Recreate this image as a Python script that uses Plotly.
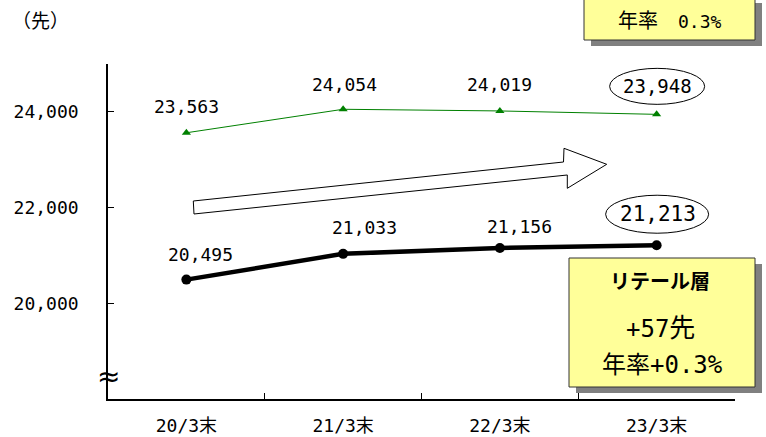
import plotly.graph_objects as go

# ---- data ----
categories = ["20/3末", "21/3末", "22/3末", "23/3末"]
total_values = [23563, 24054, 24019, 23948]      # green series
retail_values = [20495, 21033, 21156, 21213]     # black series (リテール層)
y_tick_vals = [20000, 22000, 24000]
y_tick_text = ["20,000", "22,000", "24,000"]

# label offsets in pixels (xshift, yshift)
total_label_off = [(0, 26), (1, 25), (0, 26), (1, 28)]
retail_label_off = [(14, 25), (21, 26), (20, 21), (1, 31)]

MONO = "DejaVu Sans Mono"
CJK_FONT = "Noto Sans CJK JP"
NUM_FONT = MONO + ", " + CJK_FONT

W, H = 766, 437
L, R, T, B = 108, 735, 64, 399


def px(x):
    return (x - L) / (R - L)


def py(y):
    return (B - y) / (B - T)


def mono(t, size):
    return f"<span style='font-family:{MONO};font-size:{size}px'>{t}</span>"


def cjk(t, size):
    return f"<span style='font-family:{CJK_FONT};font-size:{size}px'>{t}</span>"


fig = go.Figure()

fig.add_trace(go.Scatter(
    x=categories, y=total_values, mode="lines+markers",
    line=dict(color="#008000", width=1),
    marker=dict(symbol="triangle-up", size=8, color="#008000"),
    hoverinfo="skip", showlegend=False))

fig.add_trace(go.Scatter(
    x=categories, y=retail_values, mode="lines+markers",
    line=dict(color="#000000", width=4.5),
    marker=dict(symbol="circle", size=10, color="#000000"),
    hoverinfo="skip", showlegend=False))

annotations = []
shapes = []

for i, (c, v) in enumerate(zip(categories, total_values)):
    xs, ys = total_label_off[i]
    annotations.append(dict(
        x=c, y=v, xref="x", yref="y", text=f"{v:,}", showarrow=False,
        xshift=xs, yshift=ys, font=dict(family=NUM_FONT, size=19 if i == 3 else 18, color="#000"),
        xanchor="center", yanchor="middle"))

for i, (c, v) in enumerate(zip(categories, retail_values)):
    xs, ys = retail_label_off[i]
    annotations.append(dict(
        x=c, y=v, xref="x", yref="y", text=f"{v:,}", showarrow=False,
        xshift=xs, yshift=ys, font=dict(family=NUM_FONT, size=21 if i == 3 else 18, color="#000"),
        xanchor="center", yanchor="middle"))

# ellipses around latest values
shapes.append(dict(type="circle", xref="x", yref="y", xsizemode="pixel", ysizemode="pixel",
                   xanchor=3, yanchor=total_values[3], x0=-47, x1=48, y0=10, y1=46,
                   line=dict(color="#000", width=1), fillcolor="rgba(0,0,0,0)", layer="above"))
shapes.append(dict(type="circle", xref="x", yref="y", xsizemode="pixel", ysizemode="pixel",
                   xanchor=3, yanchor=retail_values[3], x0=-51, x1=52, y0=12, y1=50,
                   line=dict(color="#000", width=1), fillcolor="rgba(0,0,0,0)", layer="above"))

# hollow block arrow
arrow_pts = [(194, 214), (193.3, 201), (563.5, 162), (564, 148.3), (606.7, 164.3),
             (567.3, 188.3), (567.3, 175)]
path = "M " + " L ".join(f"{px(x):.5f},{py(y):.5f}" for x, y in arrow_pts) + " Z"
shapes.append(dict(type="path", xref="paper", yref="paper", path=path,
                   line=dict(color="#000", width=1), fillcolor="white", layer="above"))

# yellow boxes with shadow
def box(x0, y0, x1, y1):
    shapes.append(dict(type="rect", xref="paper", yref="paper",
                       x0=px(x0 + 7), x1=px(x1 + 7), y0=py(y1 + 6), y1=py(y0 + 6),
                       line=dict(width=0), fillcolor="#808080", layer="above"))
    shapes.append(dict(type="rect", xref="paper", yref="paper",
                       x0=px(x0), x1=px(x1), y0=py(y1), y1=py(y0),
                       line=dict(color="#333", width=1), fillcolor="#FFFF99", layer="above"))

box(584, -3, 755, 40)
box(569, 258, 755, 387)

def text_at(x, y, t, size, family=NUM_FONT, xanchor="center"):
    annotations.append(dict(x=px(x), y=py(y), xref="paper", yref="paper", text=t,
                            showarrow=False, xanchor=xanchor, yanchor="middle",
                            font=dict(family=family, size=size, color="#000")))

text_at(670, 19, cjk("年率　", 20) + mono("0.3%", 18), 18)
text_at(660, 280, "<b>リテール層</b>", 20, family=CJK_FONT)
text_at(660, 325, mono("+57", 24) + cjk("先", 26), 24)
text_at(662, 362, cjk("年率", 24) + mono("+0.3%", 24), 24)
text_at(10, 20, "（先）", 19, family=CJK_FONT, xanchor="left")
text_at(108, 376, "≈", 28, family="DejaVu Sans")

fig.update_layout(
    width=W, height=H,
    margin=dict(l=L, r=W - R, t=T, b=H - B, autoexpand=False),
    paper_bgcolor="white", plot_bgcolor="white",
    shapes=shapes, annotations=annotations,
    xaxis=dict(type="category", range=[-0.5, 3.5], showgrid=False, zeroline=False,
               showline=True, linecolor="#000", linewidth=1.5, automargin=False,
               ticks="inside", tickson="boundaries", ticklen=6, tickcolor="#000",
               ticklabelstandoff=10,
               tickfont=dict(family=NUM_FONT, size=18, color="#000")),
    yaxis=dict(range=[18000, 25000], showgrid=False, zeroline=False,
               showline=True, linecolor="#000", linewidth=1.5, automargin=False,
               ticks="inside", ticklen=6, tickcolor="#000",
               tickvals=y_tick_vals, ticktext=y_tick_text, ticklabelstandoff=24,
               tickfont=dict(family=NUM_FONT, size=18, color="#000")),
)

fig.write_html("out.html")
